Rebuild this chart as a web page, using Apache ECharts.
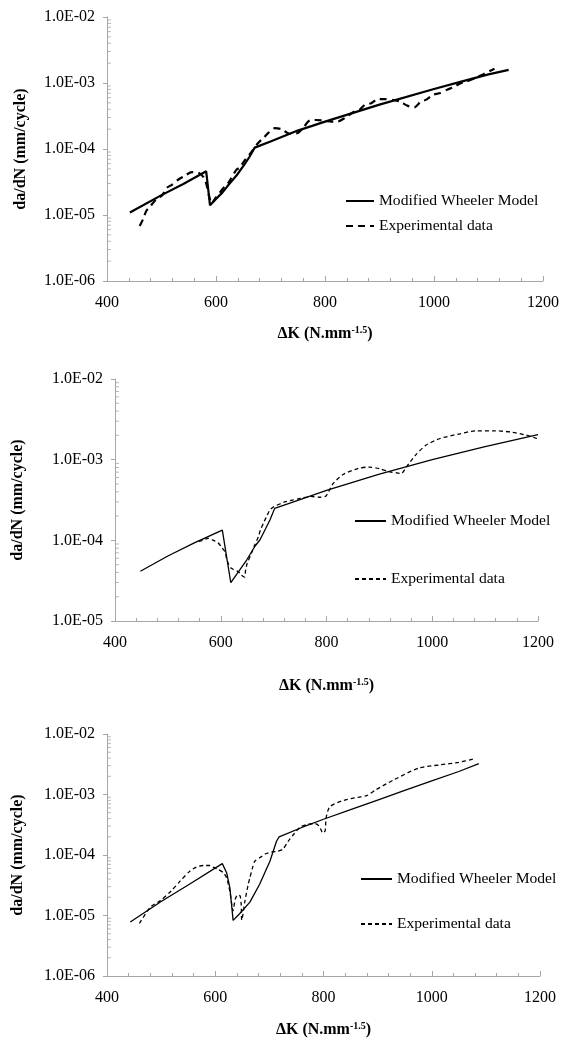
<!DOCTYPE html>
<html>
<head>
<meta charset="utf-8">
<script src="https://cdn.jsdelivr.net/npm/echarts@6/dist/echarts.min.js"></script>
<style>
  html, body { margin: 0; padding: 0; background: #fff; }
  .c { position: absolute; left: 0; width: 562px; }
</style>
</head>
<body>
<div id="c1" class="c" style="top:0;height:350px"></div>
<div id="c2" class="c" style="top:350px;height:350px"></div>
<div id="c3" class="c" style="top:700px;height:343px"></div>
<script>
// ---- data ----
var xTicks = ['400', '600', '800', '1000', '1200'];
var yTicks1 = ['1.0E-06', '1.0E-05', '1.0E-04', '1.0E-03', '1.0E-02'];
var yTicks2 = ['1.0E-05', '1.0E-04', '1.0E-03', '1.0E-02'];
var seriesNames = ['Modified Wheeler Model', 'Experimental data'];

// chart 1
var model1K = [442, 500, 540, 582, 589, 600, 612, 625, 638, 650, 661, 671, 700, 750, 800, 900, 1000, 1050, 1100, 1137];
var model1Rate = [1.09e-5, 2.0e-5, 2.95e-5, 4.6e-5, 1.4e-5, 1.75e-5, 2.2e-5, 3.0e-5, 4.0e-5, 5.5e-5, 7.5e-5, 1.05e-4, 1.3e-4, 1.9e-4, 2.6e-4, 4.7e-4, 8.1e-4, 1.05e-3, 1.35e-3, 1.58e-3];
var exp1K = [460, 466, 472, 479, 490, 501, 510, 519, 531, 540, 556, 568, 578, 583, 587, 592, 600, 616, 623, 637, 643, 653, 660, 667, 676, 687, 696, 708, 720, 735, 750, 760, 772, 784, 800, 812, 823, 836, 854, 863, 873, 885, 897, 909, 927, 937, 952, 964, 976, 985, 998, 1010, 1025, 1034, 1049, 1059, 1075, 1090, 1111];
var exp1Rate = [6.8e-6, 8.6e-6, 1.15e-5, 1.34e-5, 1.73e-5, 1.98e-5, 2.59e-5, 2.87e-5, 3.45e-5, 3.8e-5, 4.45e-5, 4.35e-5, 3.66e-5, 2.8e-5, 2.0e-5, 1.5e-5, 1.85e-5, 2.7e-5, 3.1e-5, 4.8e-5, 5.2e-5, 6.8e-5, 7.9e-5, 9.5e-5, 1.2e-4, 1.47e-4, 1.75e-4, 2.07e-4, 2.0e-4, 1.7e-4, 1.75e-4, 2.1e-4, 2.7e-4, 2.75e-4, 2.67e-4, 2.6e-4, 2.6e-4, 2.94e-4, 3.7e-4, 3.9e-4, 4.67e-4, 4.94e-4, 5.69e-4, 5.69e-4, 5.5e-4, 5.25e-4, 4.5e-4, 4.3e-4, 5.24e-4, 5.55e-4, 6.6e-4, 7.0e-4, 8.0e-4, 8.5e-4, 9.9e-4, 1.05e-3, 1.18e-3, 1.35e-3, 1.65e-3];

// chart 2
var model2K = [448, 500, 550, 603, 619, 635, 649, 665, 674, 685, 693, 702, 750, 800, 900, 1000, 1100, 1200];
var model2Rate = [4.14e-5, 6.4e-5, 9.3e-5, 1.34e-4, 2.98e-5, 4.2e-5, 5.7e-5, 8.5e-5, 1.01e-4, 1.4e-4, 1.79e-4, 2.49e-4, 3.2e-4, 4.16e-4, 6.6e-4, 1.0e-3, 1.45e-3, 2.05e-3];
var exp2K = [558, 566, 576, 586, 595, 601, 608, 611, 614, 620, 633, 639, 645, 647, 650, 658, 664, 671, 675, 682, 688, 693, 700, 721, 731, 750, 770, 787, 799, 812, 832, 859, 880, 900, 920, 934, 941, 951, 968, 988, 1015, 1049, 1083, 1117, 1151, 1178, 1198];
var exp2Rate = [9.7e-5, 1.0e-4, 1.06e-4, 1.0e-4, 9.3e-5, 8.3e-5, 7.2e-5, 6.0e-5, 5.2e-5, 4.5e-5, 4.1e-5, 3.7e-5, 3.5e-5, 4.3e-5, 5.2e-5, 6.9e-5, 8.7e-5, 1.1e-4, 1.34e-4, 1.7e-4, 2.06e-4, 2.38e-4, 2.6e-4, 3.0e-4, 3.1e-4, 3.3e-4, 3.5e-4, 3.42e-4, 3.55e-4, 5.0e-4, 6.6e-4, 7.75e-4, 8.1e-4, 7.75e-4, 7.05e-4, 6.84e-4, 6.7e-4, 8.1e-4, 1.13e-3, 1.51e-3, 1.83e-3, 2.07e-3, 2.28e-3, 2.28e-3, 2.19e-3, 2.01e-3, 1.83e-3];

// chart 3
var model3K = [443, 500, 550, 613, 621, 627, 633, 645, 664, 682, 701, 713, 718, 760, 800, 850, 900, 950, 1000, 1050, 1087];
var model3Rate = [7.8e-6, 1.7e-5, 3.2e-5, 7.2e-5, 5.1e-5, 2.9e-5, 8.3e-6, 1.07e-5, 1.66e-5, 3.29e-5, 7.9e-5, 1.67e-4, 2.0e-4, 2.85e-4, 3.9e-4, 5.6e-4, 8.1e-4, 1.17e-3, 1.68e-3, 2.4e-3, 3.25e-3];
var exp3K = [460, 480, 499, 519, 535, 553, 565, 578, 590, 596, 605, 615, 621, 627, 633, 637, 642, 646, 648, 649, 655, 661, 664, 669, 673, 686, 692, 704, 715, 725, 735, 745, 757, 770, 784, 792, 799, 803, 805, 812, 837, 864, 880, 897, 930, 977, 1016, 1050, 1076];
var exp3Rate = [7.4e-6, 1.37e-5, 1.77e-5, 2.57e-5, 3.7e-5, 5.4e-5, 6.3e-5, 6.7e-5, 6.7e-5, 6.3e-5, 5.8e-5, 5.1e-5, 4.2e-5, 2.5e-5, 1.2e-5, 1.87e-5, 2.2e-5, 2.1e-5, 1.5e-5, 8.4e-6, 1.77e-5, 3.3e-5, 4.2e-5, 6.2e-5, 7.9e-5, 9.5e-5, 1.04e-4, 1.12e-4, 1.15e-4, 1.25e-4, 1.7e-4, 2.2e-4, 2.9e-4, 3.2e-4, 3.3e-4, 3.0e-4, 2.3e-4, 2.5e-4, 4.2e-4, 6.3e-4, 8.0e-4, 9.0e-4, 9.6e-4, 1.2e-3, 1.75e-3, 2.75e-3, 3.1e-3, 3.4e-3, 3.85e-3];

// ---- helpers ----
var serif = 'Liberation Serif';

function zip(a, b) {
    return a.map(function (v, i) { return [v, b[i]]; });
}

// log-spaced minor ticks (2..9 within each decade), drawn as tiny marks on the y axis
function minorTickPoints(labels, xAt) {
    var pts = [];
    for (var i = 0; i < labels.length - 1; i++) {
        var base = parseFloat(labels[i]);
        for (var k = 2; k <= 9; k++) pts.push([xAt, base * k]);
    }
    return pts;
}

function makeOption(cfg) {
    var yLabels = cfg.yLabels;
    return {
        animation: false,
        grid: cfg.grid,
        legend: {
            data: seriesNames,
            orient: 'vertical',
            left: cfg.legend.left,
            top: cfg.legend.top,
            padding: 0,
            itemGap: cfg.legend.gap,
            itemWidth: cfg.legend.w,
            itemHeight: 14,
            itemStyle: { opacity: 0 },
            textStyle: { fontFamily: serif, fontSize: 15.6, color: '#000', lineHeight: 16 }
        },
        xAxis: {
            type: 'value',
            min: 400,
            max: 1200,
            interval: 200,
            name: '{n|ΔK (N.mm}{s|-1.5}{n|)}',
            nameLocation: 'middle',
            nameGap: cfg.xNameGap,
            nameTextStyle: {
                rich: {
                    n: { fontFamily: serif, fontWeight: 'bold', fontSize: 16, color: '#000', lineHeight: 18 },
                    s: { fontFamily: serif, fontWeight: 'bold', fontSize: 10, color: '#000', verticalAlign: 'top', lineHeight: 18, padding: [0, 0, 6, 0] }
                }
            },
            axisLine: { lineStyle: { color: '#a6a6a6', width: 1 } },
            axisTick: { inside: true, length: 5, lineStyle: { color: '#a6a6a6' } },
            minorTick: { show: true, splitNumber: 5, length: 3, lineStyle: { color: '#a6a6a6' } },
            axisLabel: {
                margin: 14,
                fontFamily: serif,
                fontSize: 16,
                color: '#000',
                formatter: function (v) { return xTicks[Math.round((v - 400) / 200)]; }
            },
            splitLine: { show: false }
        },
        yAxis: {
            type: 'log',
            logBase: 10,
            min: parseFloat(yLabels[0]),
            max: parseFloat(yLabels[yLabels.length - 1]),
            name: 'da/dN (mm/cycle)',
            nameLocation: 'middle',
            nameGap: cfg.yNameGap,
            nameTextStyle: { fontFamily: serif, fontWeight: 'bold', fontSize: 16, color: '#000' },
            axisLine: { show: true, lineStyle: { color: '#a6a6a6', width: 1 } },
            axisTick: { show: true, length: 4, lineStyle: { color: '#a6a6a6' } },
            axisLabel: {
                margin: 12,
                fontFamily: serif,
                fontSize: 16,
                color: '#000',
                formatter: function (v) {
                    var i = Math.round(Math.log10(v / parseFloat(yLabels[0])));
                    return yLabels[i];
                }
            },
            splitLine: { show: false }
        },
        series: [
            {
                name: seriesNames[0],
                type: 'line',
                symbol: 'none',
                data: cfg.model,
                lineStyle: { color: '#000', width: cfg.lw, type: 'solid' },
                itemStyle: { color: '#000' },
                z: 3
            },
            {
                name: seriesNames[1],
                type: 'line',
                symbol: 'none',
                smooth: 0.25,
                data: cfg.exp,
                lineStyle: { color: '#000', width: cfg.lw, type: cfg.dash },
                itemStyle: { color: '#000' },
                z: 2
            },
            {
                name: 'minor',
                type: 'scatter',
                silent: true,
                clip: false,
                symbol: 'rect',
                symbolSize: [4, 1],
                symbolOffset: [2, 0],
                itemStyle: { color: '#a6a6a6' },
                data: minorTickPoints(yLabels, 400),
                z: 1
            }
        ]
    };
}

var charts = [
    {
        id: 'c1',
        grid: { left: 107, right: 18, top: 17, bottom: 69 },
        legend: { left: 345, top: 193, gap: 9, w: 28 },
        xNameGap: 44,
        yNameGap: 78,
        yLabels: yTicks1,
        lw: 2.2,
        dash: [7, 5],
        model: zip(model1K, model1Rate),
        exp: zip(exp1K, exp1Rate)
    },
    {
        id: 'c2',
        grid: { left: 115, right: 24, top: 29, bottom: 79 },
        legend: { left: 354, top: 163, gap: 42, w: 31 },
        xNameGap: 56,
        yNameGap: 89,
        yLabels: yTicks2,
        lw: 1.3,
        dash: [4, 3],
        model: zip(model2K, model2Rate),
        exp: zip(exp2K, exp2Rate)
    },
    {
        id: 'c3',
        grid: { left: 107, right: 22, top: 34, bottom: 63 },
        legend: { left: 360, top: 171, gap: 29, w: 31 },
        xNameGap: 45,
        yNameGap: 81,
        yLabels: yTicks1,
        lw: 1.3,
        dash: [4, 3],
        model: zip(model3K, model3Rate),
        exp: zip(exp3K, exp3Rate)
    }
];

charts.forEach(function (cfg) {
    var chart = echarts.init(document.getElementById(cfg.id), null, { renderer: 'canvas' });
    chart.setOption(makeOption(cfg));
});
</script>
</body>
</html>
